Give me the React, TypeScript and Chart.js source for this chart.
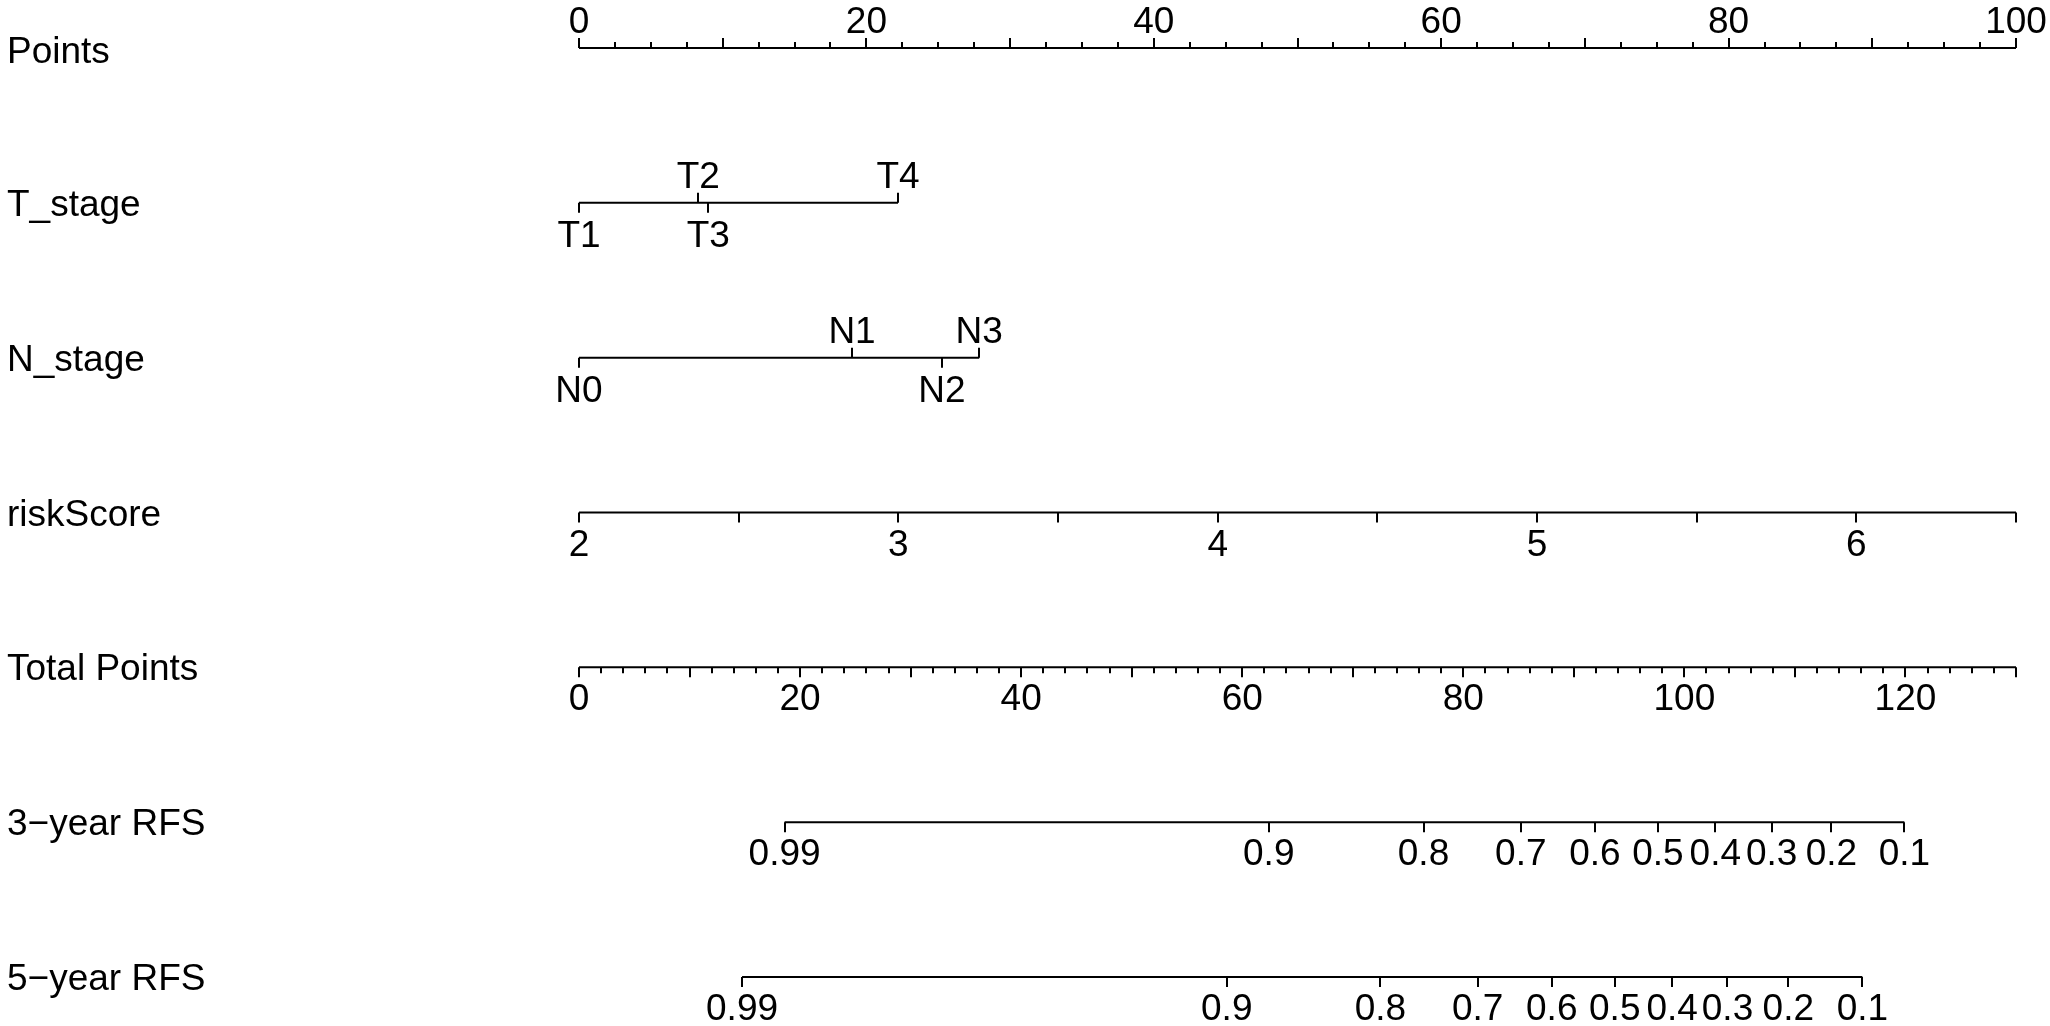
import React, { useEffect, useRef } from "react";
import { Chart, registerables } from "chart.js";

Chart.register(...registerables);

// ---- Data ----
const rowNames = [
  "Points",
  "T_stage",
  "N_stage",
  "riskScore",
  "Total Points",
  "3\u2212year RFS",
  "5\u2212year RFS",
];

const pointsMajorTicks = [0, 10, 20, 30, 40, 50, 60, 70, 80, 90, 100];
const pointsMinorTicks = [
  2.5, 5, 7.5, 12.5, 15, 17.5, 22.5, 25, 27.5, 32.5, 35, 37.5, 42.5, 45, 47.5,
  52.5, 55, 57.5, 62.5, 65, 67.5, 72.5, 75, 77.5, 82.5, 85, 87.5, 92.5, 95, 97.5,
];
const pointsLabels = [0, 20, 40, 60, 80, 100];

const tStageLevels = ["T1", "T2", "T3", "T4"];
const tStagePoints = [0, 8.3, 9.0, 22.2];
const tStageSides = [1, -1, 1, -1];

const nStageLevels = ["N0", "N1", "N2", "N3"];
const nStagePoints = [0, 19.0, 25.25, 27.85];
const nStageSides = [1, -1, 1, -1];

const riskScoreTicks = [2, 2.5, 3, 3.5, 4, 4.5, 5, 5.5, 6, 6.5];
const riskScoreLabels = [2, 3, 4, 5, 6];

const totalMajorTicks = [0, 10, 20, 30, 40, 50, 60, 70, 80, 90, 100, 110, 120, 130];
const totalMinorTicks = [
  2, 4, 6, 8, 12, 14, 16, 18, 22, 24, 26, 28, 32, 34, 36, 38, 42, 44, 46, 48,
  52, 54, 56, 58, 62, 64, 66, 68, 72, 74, 76, 78, 82, 84, 86, 88, 92, 94, 96, 98,
  102, 104, 106, 108, 112, 114, 116, 118, 122, 124, 126, 128,
];
const totalLabels = [0, 20, 40, 60, 80, 100, 120];

const rfsLabels = ["0.99", "0.9", "0.8", "0.7", "0.6", "0.5", "0.4", "0.3", "0.2", "0.1"];
const rfs3Total = [18.6, 62.4, 76.4, 85.2, 91.9, 97.6, 102.8, 107.9, 113.3, 119.9];
const rfs5Total = [14.75, 58.6, 72.5, 81.3, 88.0, 93.7, 98.9, 103.9, 109.4, 116.1];

const FONT = "37px 'Liberation Sans', Arial, Helvetica, sans-serif";

const nomoPlugin = {
  id: "nomo",
  afterDatasetsDraw(chart: any) {
    const ctx = chart.ctx as CanvasRenderingContext2D;
    const ys = chart.scales.y;
    const xp = chart.scales.x;
    const xt = chart.scales.xt;
    const xr = chart.scales.xr;
    ctx.save();
    ctx.strokeStyle = "#000";
    ctx.fillStyle = "#000";
    ctx.lineWidth = 2;
    ctx.lineCap = "butt";
    ctx.font = FONT;

    const tick = (scale: any, v: number, row: number, len: number, dir: number) => {
      const px = Math.round(scale.getPixelForValue(v));
      const py = ys.getPixelForValue(row);
      ctx.beginPath();
      ctx.moveTo(px, py);
      ctx.lineTo(px, py + dir * len);
      ctx.stroke();
    };
    const label = (scale: any, v: number, row: number, text: string, dir: number, below = 43) => {
      const px = scale.getPixelForValue(v);
      const py = ys.getPixelForValue(row);
      ctx.textAlign = "center";
      ctx.textBaseline = "alphabetic";
      ctx.fillText(text, px, dir < 0 ? py - 15 : py + below);
    };

    // Points
    pointsMajorTicks.forEach((v) => tick(xp, v, 0, 10, -1));
    pointsMinorTicks.forEach((v) => tick(xp, v, 0, 6, -1));
    pointsLabels.forEach((v) => label(xp, v, 0, String(v), -1));

    // T_stage
    tStagePoints.forEach((v, i) => {
      tick(xp, v, 1, 10, tStageSides[i]);
      label(xp, v, 1, tStageLevels[i], tStageSides[i], 44);
    });

    // N_stage
    nStagePoints.forEach((v, i) => {
      tick(xp, v, 2, 10, nStageSides[i]);
      label(xp, v, 2, nStageLevels[i], nStageSides[i], 44);
    });

    // riskScore
    riskScoreTicks.forEach((v) => tick(xr, v, 3, 10, 1));
    riskScoreLabels.forEach((v) => label(xr, v, 3, String(v), 1));

    // Total Points
    totalMajorTicks.forEach((v) => tick(xt, v, 4, 10, 1));
    totalMinorTicks.forEach((v) => tick(xt, v, 4, 6, 1));
    totalLabels.forEach((v) => label(xt, v, 4, String(v), 1));

    // RFS
    rfs3Total.forEach((v, i) => {
      tick(xt, v, 5, 10, 1);
      label(xt, v, 5, rfsLabels[i], 1);
    });
    rfs5Total.forEach((v, i) => {
      tick(xt, v, 6, 10, 1);
      label(xt, v, 6, rfsLabels[i], 1);
    });

    // Row names
    ctx.textAlign = "left";
    ctx.textBaseline = "alphabetic";
    rowNames.forEach((n, i) => ctx.fillText(n, 7, ys.getPixelForValue(i) + (i === 0 ? 15 : 13)));

    ctx.restore();
  },
};

function axisLine(xAxisID: string, row: number, values: number[]) {
  const lo = Math.min(...values);
  const hi = Math.max(...values);
  return {
    xAxisID,
    yAxisID: "y",
    data: [
      { x: lo, y: row },
      { x: hi, y: row },
    ],
    borderColor: "#000",
    borderWidth: 2,
    pointRadius: 0,
    fill: false,
    clip: false as any,
  };
}

export default function App() {
  const ref = useRef<HTMLCanvasElement | null>(null);

  useEffect(() => {
    if (!ref.current) return;
    const chart = new Chart(ref.current, {
      type: "line",
      data: {
        datasets: [
          axisLine("x", 0, pointsMajorTicks),
          axisLine("x", 1, tStagePoints),
          axisLine("x", 2, nStagePoints),
          axisLine("xr", 3, riskScoreTicks),
          axisLine("xt", 4, totalMajorTicks),
          axisLine("xt", 5, rfs3Total),
          axisLine("xt", 6, rfs5Total),
        ] as any,
      },
      options: {
        animation: false,
        responsive: false,
        devicePixelRatio: 1,
        layout: { padding: { left: 579, right: 34, top: 48, bottom: 49 } },
        scales: {
          x: { type: "linear", min: 0, max: 100, display: false },
          xt: { type: "linear", axis: "x", min: 0, max: 130, display: false },
          xr: { type: "linear", axis: "x", min: 2, max: 6.5, display: false },
          y: { type: "linear", min: 0, max: 6, reverse: true, display: false },
        } as any,
        plugins: {
          legend: { display: false },
          tooltip: { enabled: false },
        },
      },
      plugins: [nomoPlugin],
    });
    return () => chart.destroy();
  }, []);

  return (
    <div style={{ position: "absolute", left: 0, top: 0, width: 2050, height: 1026, background: "#fff" }}>
      <canvas ref={ref} width={2050} height={1026} style={{ width: 2050, height: 1026 }} />
    </div>
  );
}
